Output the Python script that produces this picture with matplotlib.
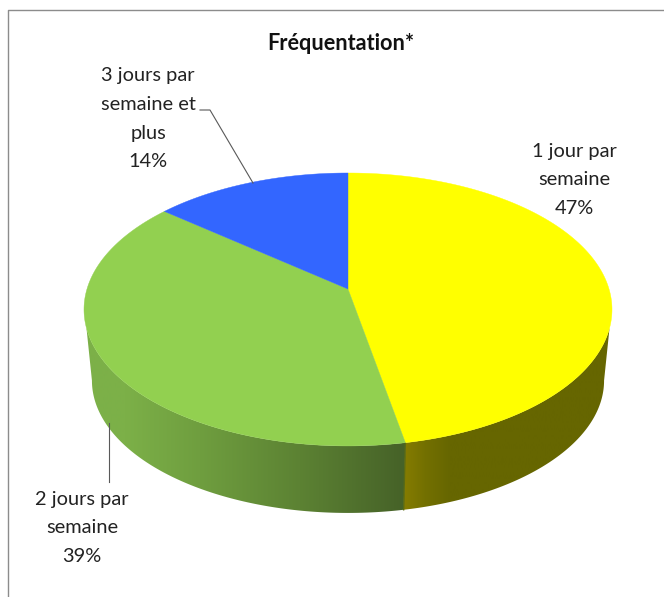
import numpy as np
import matplotlib
matplotlib.use("Agg")
import matplotlib.pyplot as plt
from matplotlib.patches import Polygon

title = "Fréquentation*"
categories = ["1 jour par\nsemaine", "2 jours par\nsemaine", "3 jours par\nsemaine et\nplus"]
values = [47, 39, 14]
top_colors = ["#FFFF00", "#92D050", "#3366FF"]
# side wall gradient stops: (x pixel, colour)
side_stops = [
    [(395, "#857C00"), (404, "#857C00"), (425, "#737000"), (450, "#666600"), (612, "#666600")],
    [(84, "#7CB048"), (125, "#7CB048"), (200, "#6F9E3F"), (300, "#5C8233"), (404, "#466228"), (415, "#466228")],
    [(84, "#2244AA"), (348, "#2244AA")],
]
label_pos = [(574, 151), (82, 499), (148, 76)]

plt.rcParams["font.family"] = ["Lato", "DejaVu Sans"]
fig = plt.figure(figsize=(6.64, 5.97), dpi=100)
ax = fig.add_axes([0, 0, 1, 1])

CX, CY, A, B, K = 348.0, 289.0, 261.0, 133.4, 0.15
DEPTH, S = 71.7, 0.97
TOP_CUT, BOTTOM_CUT = -0.28, -0.15


def project(theta, scale=1.0, dy=0.0):
    """Pie angle (clockwise from 12 o'clock) to pixel position in perspective."""
    u, v = np.sin(theta), np.cos(theta)
    d = 1 + K * v
    return CX + scale * A * u / d, CY + dy - scale * B * v / d


fractions = np.array(values, dtype=float) / np.sum(values)
edges = np.concatenate([[0], np.cumsum(fractions)]) * 2 * np.pi


def front_arc(t0, t1, cut):
    lo, hi = np.arccos(cut), 2 * np.pi - np.arccos(cut)
    a, b = max(t0, lo), min(t1, hi)
    return np.linspace(a, b, 300) if b > a else None


# side walls: gradient image clipped to the visible part of each slice's rim
for i in range(len(values)):
    top_arc = front_arc(edges[i], edges[i + 1], TOP_CUT)
    bot_arc = front_arc(edges[i], edges[i + 1], BOTTOM_CUT)
    if top_arc is None or bot_arc is None:
        continue
    xt, yt = project(top_arc)
    xb, yb = project(bot_arc, scale=S, dy=DEPTH)
    poly = np.column_stack([np.r_[xt, xb[::-1]], np.r_[yt, yb[::-1]]])
    stops = side_stops[i]
    px = np.arange(stops[0][0], stops[-1][0] + 1)
    rgb = np.array([matplotlib.colors.to_rgb(s[1]) for s in stops])
    xs = [s[0] for s in stops]
    grad = np.stack([np.interp(px, xs, rgb[:, c]) for c in range(3)], axis=-1)[None, :, :]
    patch = Polygon(poly, closed=True, facecolor="none", edgecolor="none", transform=ax.transData)
    ax.add_patch(patch)
    im = ax.imshow(grad, extent=(px[0], px[-1], 600, 0), aspect="auto", zorder=1,
                   interpolation="bilinear")
    im.set_clip_path(patch)

# seam between the two visible walls, on the shared slice edge
x0, y0 = project(edges[1])
x1, y1 = project(edges[1], scale=S, dy=DEPTH)
ax.plot([x0, x1], [y0, y1], color="#5A6A14", lw=1.0, zorder=1.5)

# top faces
for i in range(len(values)):
    th = np.linspace(edges[i], edges[i + 1], 400)
    xs, ys = project(th)
    ax.fill(np.r_[CX, xs], np.r_[CY, ys], color=top_colors[i], lw=0.3, zorder=2)

# chart frame (left and top only)
ax.plot([8, 8, 664], [597, 10, 10], color="#8C8C8C", lw=1.0, zorder=0)

# leader lines
ax.plot([200, 210, 253], [110, 110, 183], color="#595959", lw=0.8, zorder=3)
ax.plot([109, 109], [423, 482], color="#595959", lw=0.8, zorder=3)

# text
ax.text(341, 43, title, ha="center", va="center", fontsize=15.6, fontweight="bold", color="#111111")
for cat, v, (x, y) in zip(categories, values, label_pos):
    for j, line in enumerate((cat + f"\n{v}%").split("\n")):
        ax.text(x, y + j * 28.6, line, ha="center", va="center", fontsize=14.4, color="#222222")

ax.set_xlim(0, 664)
ax.set_ylim(597, 0)
ax.axis("off")

fig.savefig("out.png", dpi=100)
